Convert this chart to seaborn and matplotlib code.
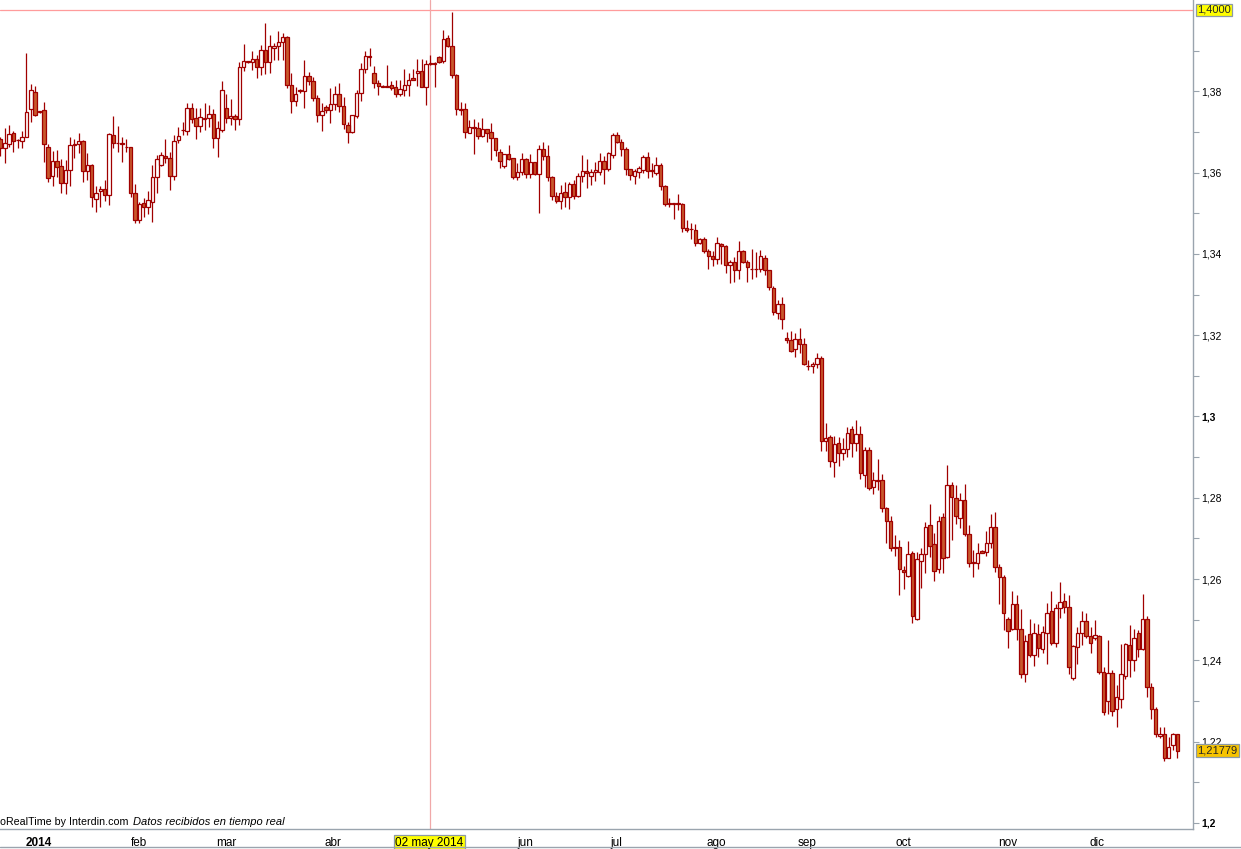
import numpy as np
import pandas as pd
import matplotlib
matplotlib.use("Agg")
import matplotlib.pyplot as plt
import seaborn as sns
from matplotlib.lines import Line2D

# ---------------- data (EUR/USD daily candles) ----------------
opens = [
 1.3682,1.3660,1.3670,1.3698,1.3680,1.3678,1.3688,1.3756,1.3798,1.3748,
 1.3753,1.3662,1.3592,1.3628,1.3615,1.3574,1.3606,1.3667,1.3670,1.3677,
 1.3604,1.3618,1.3534,1.3555,1.3559,1.3544,1.3692,1.3674,1.3672,1.3664,
 1.3662,1.3551,1.3483,1.3525,1.3515,1.3528,1.3588,1.3619,1.3642,1.3635,
 1.3592,1.3679,1.3705,1.3703,1.3758,1.3734,1.3715,1.3733,1.3734,1.3743,
 1.3684,1.3706,1.3758,1.3734,1.3740,1.3731,1.3859,1.3873,1.3873,1.3879,
 1.3859,1.3901,1.3871,1.3906,1.3912,1.3921,1.3933,1.3816,1.3777,1.3800,
 1.3801,1.3838,1.3825,1.3783,1.3742,1.3761,1.3754,1.3768,1.3793,1.3765,
 1.3717,1.3699,1.3740,1.3795,1.3854,1.3888,1.3844,1.3820,1.3814,1.3811,
 1.3815,1.3811,1.3793,1.3803,1.3816,1.3833,1.3844,1.3851,1.3811,1.3867,
 1.3870,1.3884,1.3875,1.3930,1.3911,1.3839,1.3756,1.3756,1.3698,1.3709,
 1.3709,1.3689,1.3707,1.3699,1.3684,1.3651,1.3617,1.3645,1.3635,1.3590,
 1.3601,1.3634,1.3596,1.3625,1.3596,1.3659,1.3642,1.3590,1.3543,1.3531,
 1.3552,1.3541,1.3572,1.3543,1.3592,1.3605,1.3592,1.3601,1.3602,1.3628,
 1.3608,1.3643,1.3692,1.3676,1.3657,1.3608,1.3592,1.3602,1.3606,1.3639,
 1.3606,1.3598,1.3618,1.3567,1.3524,1.3523,1.3524,1.3523,1.3463,1.3461,
 1.3460,1.3426,1.3436,1.3407,1.3395,1.3387,1.3424,1.3419,1.3372,1.3379,
 1.3360,1.3406,1.3381,1.3364,1.3363,1.3362,1.3389,1.3360,1.3315,1.3254,
 1.3276,1.3192,1.3188,1.3165,1.3190,1.3178,1.3124,1.3124,1.3128,1.3145,
 1.2940,1.2949,1.2887,1.2934,1.2909,1.2919,1.2969,1.2934,1.2957,1.2856,
 1.2918,1.2827,1.2844,1.2844,1.2774,1.2744,1.2678,1.2678,1.2622,1.2608,
 1.2663,1.2503,1.2645,1.2661,1.2732,1.2686,1.2624,1.2752,1.2654,1.2831,
 1.2799,1.2750,1.2795,1.2710,1.2641,1.2640,1.2670,1.2667,1.2690,1.2727,
 1.2629,1.2606,1.2501,1.2476,1.2538,1.2476,1.2366,1.2464,1.2413,1.2465,
 1.2427,1.2467,1.2522,1.2442,1.2528,1.2547,1.2532,1.2356,1.2432,1.2467,
 1.2498,1.2460,1.2454,1.2461,1.2372,1.2301,1.2370,1.2280,1.2304,1.2362,
 1.2438,1.2402,1.2467,1.2428,1.2503,1.2334,1.2280,1.2215,1.2220,1.2161,
 1.2192,1.2218]
highs = [
 1.3688,1.3709,1.3717,1.3703,1.3683,1.3703,1.3893,1.3818,1.3813,1.3752,
 1.3774,1.3670,1.3653,1.3656,1.3633,1.3630,1.3687,1.3683,1.3697,1.3681,
 1.3647,1.3620,1.3568,1.3568,1.3582,1.3697,1.3739,1.3715,1.3688,1.3683,
 1.3664,1.3572,1.3527,1.3537,1.3555,1.3619,1.3643,1.3651,1.3683,1.3651,
 1.3693,1.3713,1.3725,1.3772,1.3772,1.3760,1.3758,1.3770,1.3766,1.3756,
 1.3727,1.3825,1.3793,1.3781,1.3743,1.3873,1.3916,1.3875,1.3899,1.3889,
 1.3914,1.3967,1.3939,1.3918,1.3948,1.3943,1.3935,1.3844,1.3811,1.3806,
 1.3877,1.3848,1.3836,1.3791,1.3772,1.3766,1.3807,1.3813,1.3820,1.3787,
 1.3725,1.3742,1.3803,1.3869,1.3899,1.3906,1.3863,1.3829,1.3815,1.3865,
 1.3825,1.3828,1.3828,1.3854,1.3844,1.3854,1.3879,1.3879,1.3877,1.3889,
 1.3873,1.3887,1.3951,1.3938,1.3996,1.3842,1.3773,1.3770,1.3729,1.3731,
 1.3725,1.3735,1.3708,1.3721,1.3686,1.3657,1.3646,1.3668,1.3636,1.3623,
 1.3647,1.3635,1.3646,1.3626,1.3668,1.3675,1.3668,1.3591,1.3553,1.3570,
 1.3576,1.3578,1.3582,1.3600,1.3643,1.3633,1.3608,1.3627,1.3649,1.3641,
 1.3651,1.3697,1.3699,1.3682,1.3662,1.3609,1.3608,1.3616,1.3643,1.3650,
 1.3623,1.3638,1.3624,1.3569,1.3537,1.3525,1.3547,1.3524,1.3483,1.3475,
 1.3473,1.3439,1.3441,1.3411,1.3407,1.3441,1.3428,1.3422,1.3385,1.3393,
 1.3432,1.3410,1.3385,1.3412,1.3404,1.3410,1.3397,1.3361,1.3321,1.3287,
 1.3295,1.3207,1.3210,1.3205,1.3217,1.3192,1.3140,1.3135,1.3155,1.3150,
 1.2985,1.2955,1.2952,1.2950,1.2946,1.2975,1.2977,1.2991,1.2977,1.2926,
 1.2926,1.2864,1.2895,1.2858,1.2778,1.2755,1.2708,1.2696,1.2632,1.2694,
 1.2669,1.2667,1.2676,1.2741,1.2785,1.2713,1.2754,1.2762,1.2881,1.2840,
 1.2831,1.2811,1.2834,1.2733,1.2672,1.2688,1.2671,1.2719,1.2760,1.2765,
 1.2637,1.2610,1.2506,1.2571,1.2561,1.2527,1.2463,1.2501,1.2491,1.2490,
 1.2485,1.2540,1.2571,1.2539,1.2592,1.2567,1.2561,1.2438,1.2481,1.2522,
 1.2516,1.2481,1.2499,1.2462,1.2384,1.2450,1.2376,1.2339,1.2440,1.2442,
 1.2487,1.2476,1.2475,1.2563,1.2509,1.2344,1.2286,1.2235,1.2235,1.2211,
 1.2222,1.2218]
lows = [
 1.3640,1.3623,1.3664,1.3651,1.3660,1.3660,1.3687,1.3725,1.3739,1.3747,
 1.3627,1.3578,1.3568,1.3590,1.3551,1.3547,1.3568,1.3635,1.3647,1.3578,
 1.3582,1.3515,1.3504,1.3515,1.3531,1.3520,1.3660,1.3650,1.3627,1.3651,
 1.3541,1.3475,1.3475,1.3490,1.3498,1.3479,1.3549,1.3615,1.3623,1.3557,
 1.3582,1.3672,1.3693,1.3693,1.3721,1.3683,1.3701,1.3705,1.3713,1.3660,
 1.3639,1.3701,1.3721,1.3717,1.3705,1.3717,1.3851,1.3870,1.3853,1.3832,
 1.3840,1.3843,1.3846,1.3877,1.3877,1.3877,1.3809,1.3747,1.3765,1.3797,
 1.3758,1.3816,1.3775,1.3725,1.3703,1.3746,1.3721,1.3754,1.3750,1.3707,
 1.3672,1.3698,1.3734,1.3777,1.3844,1.3863,1.3807,1.3791,1.3810,1.3810,
 1.3803,1.3785,1.3788,1.3788,1.3788,1.3828,1.3813,1.3810,1.3766,1.3865,
 1.3811,1.3869,1.3870,1.3910,1.3832,1.3742,1.3742,1.3686,1.3697,1.3646,
 1.3682,1.3688,1.3676,1.3631,1.3641,1.3612,1.3612,1.3630,1.3584,1.3582,
 1.3594,1.3586,1.3586,1.3595,1.3500,1.3631,1.3580,1.3533,1.3524,1.3510,
 1.3516,1.3510,1.3535,1.3541,1.3578,1.3561,1.3569,1.3579,1.3594,1.3573,
 1.3605,1.3637,1.3674,1.3641,1.3594,1.3582,1.3573,1.3586,1.3598,1.3586,
 1.3590,1.3594,1.3557,1.3518,1.3515,1.3487,1.3508,1.3455,1.3455,1.3436,
 1.3419,1.3424,1.3401,1.3364,1.3369,1.3375,1.3375,1.3354,1.3329,1.3332,
 1.3338,1.3377,1.3332,1.3338,1.3342,1.3355,1.3348,1.3310,1.3250,1.3239,
 1.3216,1.3180,1.3159,1.3147,1.3155,1.3127,1.3114,1.3106,1.3119,1.2914,
 1.2914,1.2875,1.2852,1.2877,1.2893,1.2901,1.2901,1.2916,1.2845,1.2826,
 1.2819,1.2809,1.2819,1.2766,1.2690,1.2670,1.2657,1.2561,1.2575,1.2606,
 1.2493,1.2499,1.2577,1.2616,1.2655,1.2596,1.2614,1.2616,1.2651,1.2696,
 1.2736,1.2725,1.2706,1.2629,1.2606,1.2626,1.2664,1.2658,1.2676,1.2618,
 1.2539,1.2475,1.2431,1.2475,1.2449,1.2356,1.2348,1.2409,1.2385,1.2409,
 1.2417,1.2390,1.2438,1.2434,1.2504,1.2516,1.2367,1.2352,1.2391,1.2438,
 1.2454,1.2417,1.2450,1.2367,1.2266,1.2268,1.2262,1.2237,1.2282,1.2353,
 1.2360,1.2375,1.2408,1.2426,1.2311,1.2257,1.2212,1.2210,1.2153,1.2159,
 1.2180,1.2159]
closes = [
 1.3660,1.3672,1.3694,1.3678,1.3681,1.3688,1.3748,1.3802,1.3741,1.3751,
 1.3670,1.3586,1.3628,1.3613,1.3574,1.3606,1.3667,1.3670,1.3677,1.3604,
 1.3618,1.3539,1.3549,1.3559,1.3544,1.3694,1.3674,1.3672,1.3670,1.3662,
 1.3551,1.3483,1.3522,1.3516,1.3532,1.3588,1.3633,1.3643,1.3635,1.3591,
 1.3678,1.3691,1.3706,1.3758,1.3731,1.3715,1.3738,1.3735,1.3743,1.3684,
 1.3709,1.3802,1.3734,1.3740,1.3731,1.3859,1.3875,1.3874,1.3879,1.3859,
 1.3901,1.3871,1.3912,1.3912,1.3921,1.3933,1.3816,1.3777,1.3793,1.3802,
 1.3838,1.3825,1.3783,1.3742,1.3752,1.3754,1.3768,1.3793,1.3765,1.3719,
 1.3701,1.3742,1.3795,1.3854,1.3887,1.3884,1.3820,1.3813,1.3811,1.3812,
 1.3809,1.3793,1.3805,1.3816,1.3829,1.3829,1.3851,1.3810,1.3867,1.3870,
 1.3868,1.3873,1.3928,1.3911,1.3839,1.3756,1.3753,1.3701,1.3713,1.3711,
 1.3691,1.3707,1.3698,1.3684,1.3656,1.3629,1.3645,1.3633,1.3588,1.3601,
 1.3633,1.3596,1.3625,1.3596,1.3659,1.3642,1.3590,1.3543,1.3529,1.3549,
 1.3539,1.3572,1.3543,1.3592,1.3605,1.3598,1.3602,1.3606,1.3628,1.3610,
 1.3647,1.3692,1.3676,1.3657,1.3608,1.3594,1.3604,1.3611,1.3639,1.3605,
 1.3604,1.3618,1.3567,1.3522,1.3522,1.3524,1.3522,1.3463,1.3460,1.3462,
 1.3426,1.3436,1.3407,1.3395,1.3387,1.3426,1.3419,1.3372,1.3379,1.3360,
 1.3406,1.3381,1.3367,1.3362,1.3364,1.3396,1.3360,1.3318,1.3256,1.3276,
 1.3239,1.3187,1.3162,1.3190,1.3178,1.3128,1.3123,1.3128,1.3145,1.2940,
 1.2946,1.2891,1.2932,1.2911,1.2920,1.2959,1.2934,1.2957,1.2860,1.2918,
 1.2823,1.2844,1.2841,1.2774,1.2744,1.2676,1.2676,1.2624,1.2617,1.2661,
 1.2508,1.2649,1.2661,1.2727,1.2682,1.2621,1.2744,1.2651,1.2831,1.2801,
 1.2754,1.2795,1.2710,1.2640,1.2640,1.2663,1.2665,1.2690,1.2727,1.2629,
 1.2606,1.2516,1.2473,1.2538,1.2476,1.2366,1.2448,1.2413,1.2467,1.2430,
 1.2469,1.2516,1.2442,1.2528,1.2544,1.2532,1.2383,1.2435,1.2467,1.2498,
 1.2460,1.2444,1.2462,1.2372,1.2274,1.2370,1.2276,1.2311,1.2366,1.2440,
 1.2402,1.2454,1.2428,1.2503,1.2334,1.2280,1.2218,1.2220,1.2161,1.2186,
 1.2218,1.2178]

month_labels = ["2014", "feb", "mar", "abr", "02 may 2014", "jun",
                "jul", "ago", "sep", "oct", "nov", "dic"]
month_index = [8.75, 31.8, 52.0, 76.6, 98.8, 120.8, 141.8, 164.8, 185.8, 208.0, 232.0, 252.4]
cursor_index = 98.8
ref_level = 1.40
last_price = 1.21779
y_major = [1.20, 1.22, 1.24, 1.26, 1.28, 1.30, 1.32, 1.34, 1.36, 1.38]
y_minor = [1.21, 1.23, 1.25, 1.27, 1.29, 1.31, 1.33, 1.35, 1.37, 1.39]

# ---------------- style ----------------
sns.set_style("white")
plt.rcParams['font.family'] = ['Liberation Sans', 'DejaVu Sans']

EDGE = '#a00000'
FILL = '#c8582c'
AXC = '#9aa4ae'

df = pd.DataFrame(dict(open=opens, high=highs, low=lows, close=closes))
df['idx'] = np.arange(len(df))
df['up'] = df['close'] >= df['open']
df['bottom'] = df[['open', 'close']].min(axis=1)
df['height'] = (df['close'] - df['open']).abs().clip(lower=0.00005)

W, H = 1241, 849
fig = plt.figure(figsize=(W / 100, H / 100), dpi=100, facecolor='white')
ax = fig.add_axes([0, 20 / H, 1193 / W, 829 / H])
ax.set_facecolor('white')

# reference lines
ax.axhline(ref_level, color='#ff9c9c', lw=0.9, zorder=1)
ax.axvline(cursor_index, color='#f0a8a8', lw=0.9, zorder=1)

# wicks
ax.vlines(df['idx'], df['low'], df['high'], color=EDGE, lw=0.9, zorder=2)
# bodies
up = df[df['up']]
dn = df[~df['up']]
ax.bar(up['idx'], up['height'], bottom=up['bottom'], width=0.8,
       color='white', edgecolor=EDGE, linewidth=0.9, zorder=3)
ax.bar(dn['idx'], dn['height'], bottom=dn['bottom'], width=0.8,
       color=FILL, edgecolor=EDGE, linewidth=0.9, zorder=3)

ax.set_xlim(-0.1, 274.6)
ax.set_ylim(1.19852, 1.40246)

for s in ['top', 'left']:
    ax.spines[s].set_visible(False)
for s in ['right', 'bottom']:
    ax.spines[s].set_visible(True)
    ax.spines[s].set_color(AXC)
    ax.spines[s].set_linewidth(1.0)

# y axis on the right
ax.yaxis.tick_right()
ax.set_yticks(y_major)
ax.set_yticks(y_minor, minor=True)
ylabels = [("%g" % v).replace('.', ',') for v in y_major]
ax.set_yticklabels(ylabels)
for t, v in zip(ax.get_yticklabels(), y_major):
    if abs(v - 1.3) < 1e-9 or abs(v - 1.2) < 1e-9:
        t.set_fontweight('bold')
ax.tick_params(axis='y', which='both', direction='out', length=4, width=0.8,
               color=AXC, labelsize=7.5, pad=2, labelcolor='black')

# x axis
ax.set_xticks(month_index)
ax.set_xticklabels(month_labels)
ax.tick_params(axis='x', which='both', direction='out', length=4, width=0.8,
               color=AXC, labelsize=8.5, pad=1.5, labelcolor='black')
xl = ax.get_xticklabels()
xl[0].set_fontweight('bold')
xl[4].set_bbox(dict(facecolor='#ffff00', edgecolor='#8c9aa6',
                    boxstyle='square,pad=0.12', linewidth=0.9))

# price boxes on right axis
ytr = ax.get_yaxis_transform()
ax.text(1.0035, ref_level, "1,4000", transform=ytr, ha='left', va='center',
        fontsize=8, clip_on=False, zorder=10,
        bbox=dict(facecolor='#ffff00', edgecolor='#8c9aa6',
                  boxstyle='square,pad=0.12', linewidth=0.9))
ax.text(1.0035, last_price, ("%.5f" % last_price).replace('.', ','), transform=ytr,
        ha='left', va='center', fontsize=8, clip_on=False, zorder=10,
        bbox=dict(facecolor='#f7c400', edgecolor='#8c9aa6',
                  boxstyle='square,pad=0.12', linewidth=0.9))

# footer text
fig.text(0.0, 1 - 822 / H, "oRealTime by Interdin.com", ha='left', va='center',
         fontsize=7.7, color='black')
fig.text(133 / W, 1 - 822 / H, "Datos recibidos en tiempo real", ha='left', va='center',
         fontsize=8, style='italic', color='black')

# bottom frame line
fig.add_artist(Line2D([0, 1], [2 / H, 2 / H], color=AXC, lw=1.0))

fig.savefig("out.png", dpi=100, facecolor='white')
